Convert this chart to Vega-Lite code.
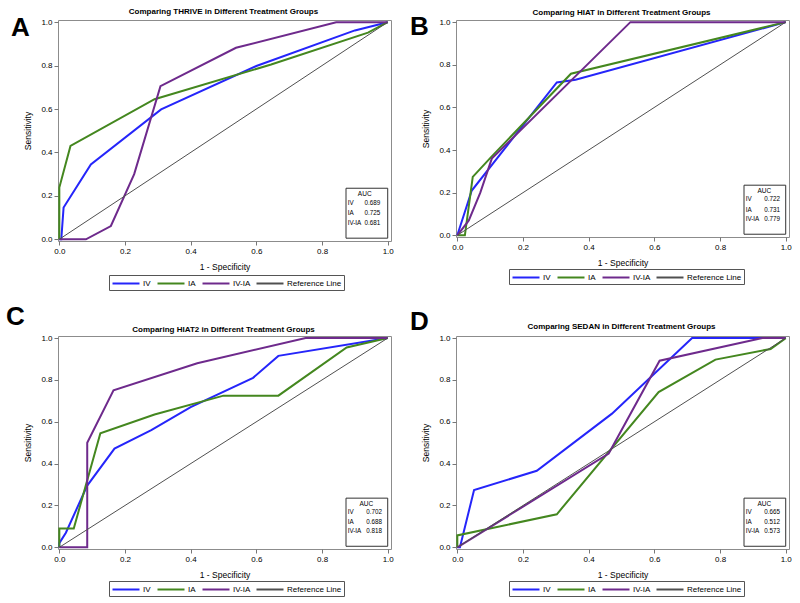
{
  "$schema": "https://vega.github.io/schema/vega-lite/v6.json",
  "padding": {"left": 5, "top": 7, "right": 5, "bottom": 0},
  "background": "white",
  "datasets": {
    "roc": [
      {"panel":"A","series":"IV","i":0,"fpr":0,"tpr":0},
      {"panel":"A","series":"IV","i":1,"fpr":0.006,"tpr":0},
      {"panel":"A","series":"IV","i":2,"fpr":0.013,"tpr":0.146},
      {"panel":"A","series":"IV","i":3,"fpr":0.096,"tpr":0.345},
      {"panel":"A","series":"IV","i":4,"fpr":0.31,"tpr":0.598},
      {"panel":"A","series":"IV","i":5,"fpr":0.6,"tpr":0.798},
      {"panel":"A","series":"IV","i":6,"fpr":0.9,"tpr":0.962},
      {"panel":"A","series":"IV","i":7,"fpr":1,"tpr":1},
      {"panel":"A","series":"IA","i":0,"fpr":0,"tpr":0},
      {"panel":"A","series":"IA","i":1,"fpr":0,"tpr":0.238},
      {"panel":"A","series":"IA","i":2,"fpr":0.034,"tpr":0.43},
      {"panel":"A","series":"IA","i":3,"fpr":0.29,"tpr":0.645},
      {"panel":"A","series":"IA","i":4,"fpr":0.645,"tpr":0.805},
      {"panel":"A","series":"IA","i":5,"fpr":0.94,"tpr":0.952},
      {"panel":"A","series":"IA","i":6,"fpr":1,"tpr":1},
      {"panel":"A","series":"IV-IA","i":0,"fpr":0,"tpr":0},
      {"panel":"A","series":"IV-IA","i":1,"fpr":0.081,"tpr":0},
      {"panel":"A","series":"IV-IA","i":2,"fpr":0.157,"tpr":0.061},
      {"panel":"A","series":"IV-IA","i":3,"fpr":0.228,"tpr":0.3},
      {"panel":"A","series":"IV-IA","i":4,"fpr":0.308,"tpr":0.705},
      {"panel":"A","series":"IV-IA","i":5,"fpr":0.538,"tpr":0.882},
      {"panel":"A","series":"IV-IA","i":6,"fpr":0.843,"tpr":1},
      {"panel":"A","series":"IV-IA","i":7,"fpr":1,"tpr":1},
      {"panel":"A","series":"Reference Line","i":0,"fpr":0,"tpr":0},
      {"panel":"A","series":"Reference Line","i":1,"fpr":1,"tpr":1},

      {"panel":"B","series":"IV","i":0,"fpr":0,"tpr":0},
      {"panel":"B","series":"IV","i":1,"fpr":0.044,"tpr":0.21},
      {"panel":"B","series":"IV","i":2,"fpr":0.303,"tpr":0.717},
      {"panel":"B","series":"IV","i":3,"fpr":0.36,"tpr":0.73},
      {"panel":"B","series":"IV","i":4,"fpr":1,"tpr":1},
      {"panel":"B","series":"IA","i":0,"fpr":0,"tpr":0},
      {"panel":"B","series":"IA","i":1,"fpr":0.023,"tpr":0},
      {"panel":"B","series":"IA","i":2,"fpr":0.047,"tpr":0.274},
      {"panel":"B","series":"IA","i":3,"fpr":0.1,"tpr":0.362},
      {"panel":"B","series":"IA","i":4,"fpr":0.346,"tpr":0.758},
      {"panel":"B","series":"IA","i":5,"fpr":1,"tpr":1},
      {"panel":"B","series":"IV-IA","i":0,"fpr":0,"tpr":0},
      {"panel":"B","series":"IV-IA","i":1,"fpr":0.035,"tpr":0.07},
      {"panel":"B","series":"IV-IA","i":2,"fpr":0.07,"tpr":0.2},
      {"panel":"B","series":"IV-IA","i":3,"fpr":0.105,"tpr":0.36},
      {"panel":"B","series":"IV-IA","i":4,"fpr":0.527,"tpr":1},
      {"panel":"B","series":"IV-IA","i":5,"fpr":1,"tpr":1},
      {"panel":"B","series":"Reference Line","i":0,"fpr":0,"tpr":0},
      {"panel":"B","series":"Reference Line","i":1,"fpr":1,"tpr":1},

      {"panel":"C","series":"IV","i":0,"fpr":0,"tpr":0},
      {"panel":"C","series":"IV","i":1,"fpr":0,"tpr":0.02},
      {"panel":"C","series":"IV","i":2,"fpr":0.02,"tpr":0.07},
      {"panel":"C","series":"IV","i":3,"fpr":0.085,"tpr":0.295},
      {"panel":"C","series":"IV","i":4,"fpr":0.168,"tpr":0.472},
      {"panel":"C","series":"IV","i":5,"fpr":0.28,"tpr":0.56},
      {"panel":"C","series":"IV","i":6,"fpr":0.4,"tpr":0.67},
      {"panel":"C","series":"IV","i":7,"fpr":0.59,"tpr":0.81},
      {"panel":"C","series":"IV","i":8,"fpr":0.667,"tpr":0.915},
      {"panel":"C","series":"IV","i":9,"fpr":1,"tpr":1},
      {"panel":"C","series":"IA","i":0,"fpr":0,"tpr":0},
      {"panel":"C","series":"IA","i":1,"fpr":0,"tpr":0.09},
      {"panel":"C","series":"IA","i":2,"fpr":0.044,"tpr":0.09},
      {"panel":"C","series":"IA","i":3,"fpr":0.125,"tpr":0.545},
      {"panel":"C","series":"IA","i":4,"fpr":0.29,"tpr":0.635},
      {"panel":"C","series":"IA","i":5,"fpr":0.5,"tpr":0.725},
      {"panel":"C","series":"IA","i":6,"fpr":0.667,"tpr":0.725},
      {"panel":"C","series":"IA","i":7,"fpr":0.875,"tpr":0.955},
      {"panel":"C","series":"IA","i":8,"fpr":1,"tpr":1},
      {"panel":"C","series":"IV-IA","i":0,"fpr":0,"tpr":0},
      {"panel":"C","series":"IV-IA","i":1,"fpr":0.085,"tpr":0},
      {"panel":"C","series":"IV-IA","i":2,"fpr":0.085,"tpr":0.5},
      {"panel":"C","series":"IV-IA","i":3,"fpr":0.165,"tpr":0.75},
      {"panel":"C","series":"IV-IA","i":4,"fpr":0.42,"tpr":0.88},
      {"panel":"C","series":"IV-IA","i":5,"fpr":0.75,"tpr":1},
      {"panel":"C","series":"IV-IA","i":6,"fpr":1,"tpr":1},
      {"panel":"C","series":"Reference Line","i":0,"fpr":0,"tpr":0},
      {"panel":"C","series":"Reference Line","i":1,"fpr":1,"tpr":1},

      {"panel":"D","series":"IV","i":0,"fpr":0,"tpr":0},
      {"panel":"D","series":"IV","i":1,"fpr":0.008,"tpr":0},
      {"panel":"D","series":"IV","i":2,"fpr":0.051,"tpr":0.274},
      {"panel":"D","series":"IV","i":3,"fpr":0.242,"tpr":0.366},
      {"panel":"D","series":"IV","i":4,"fpr":0.471,"tpr":0.639},
      {"panel":"D","series":"IV","i":5,"fpr":0.715,"tpr":1},
      {"panel":"D","series":"IV","i":6,"fpr":1,"tpr":1},
      {"panel":"D","series":"IA","i":0,"fpr":0,"tpr":0},
      {"panel":"D","series":"IA","i":1,"fpr":0,"tpr":0.057},
      {"panel":"D","series":"IA","i":2,"fpr":0.303,"tpr":0.158},
      {"panel":"D","series":"IA","i":3,"fpr":0.613,"tpr":0.742},
      {"panel":"D","series":"IA","i":4,"fpr":0.786,"tpr":0.897},
      {"panel":"D","series":"IA","i":5,"fpr":0.954,"tpr":0.948},
      {"panel":"D","series":"IA","i":6,"fpr":1,"tpr":1},
      {"panel":"D","series":"IV-IA","i":0,"fpr":0,"tpr":0},
      {"panel":"D","series":"IV-IA","i":1,"fpr":0.461,"tpr":0.448},
      {"panel":"D","series":"IV-IA","i":2,"fpr":0.616,"tpr":0.892},
      {"panel":"D","series":"IV-IA","i":3,"fpr":0.929,"tpr":1},
      {"panel":"D","series":"IV-IA","i":4,"fpr":1,"tpr":1},
      {"panel":"D","series":"Reference Line","i":0,"fpr":0,"tpr":0},
      {"panel":"D","series":"Reference Line","i":1,"fpr":1,"tpr":1}
    ],
    "auc": [
      {"panel":"A","series":"IV","auc":0.689},
      {"panel":"A","series":"IA","auc":0.725},
      {"panel":"A","series":"IV-IA","auc":0.681},
      {"panel":"B","series":"IV","auc":0.722},
      {"panel":"B","series":"IA","auc":0.731},
      {"panel":"B","series":"IV-IA","auc":0.779},
      {"panel":"C","series":"IV","auc":0.702},
      {"panel":"C","series":"IA","auc":0.688},
      {"panel":"C","series":"IV-IA","auc":0.818},
      {"panel":"D","series":"IV","auc":0.665},
      {"panel":"D","series":"IA","auc":0.512},
      {"panel":"D","series":"IV-IA","auc":0.573}
    ],
    "panels": [
      {"panel":"A","title":"Comparing THRIVE in Different Treatment Groups"},
      {"panel":"B","title":"Comparing HIAT in Different Treatment Groups"},
      {"panel":"C","title":"Comparing HIAT2 in Different Treatment Groups"},
      {"panel":"D","title":"Comparing SEDAN in Different Treatment Groups"}
    ]
  },
  "columns": 2,
  "spacing": {"row": 12, "column": 15},
  "resolve": {"scale": {"color": "independent", "x": "independent", "y": "independent"}, "legend": {"color": "independent"}, "axis": {"x": "independent", "y": "independent"}},
  "concat": [
    {
      "width": 333, "height": 221,
      "layer": [
        {"data": {"name": "roc"}, "transform": [{"filter": "datum.panel === 'A' && datum.series !== 'Reference Line'"}],
         "mark": {"type": "line", "strokeWidth": 2},
         "encoding": {
           "x": {"field": "fpr", "type": "quantitative", "scale": {"domain": [-0.004, 1.01], "nice": false, "zero": false}, "axis": {"values": [0,0.2,0.4,0.6,0.8,1], "format": ".1f", "title": "1 - Specificity", "titlePadding": 7}},
           "y": {"field": "tpr", "type": "quantitative", "scale": {"domain": [-0.008, 1.01], "nice": false, "zero": false}, "axis": {"values": [0,0.2,0.4,0.6,0.8,1], "format": ".1f", "title": "Sensitivity", "titlePadding": 8}},
           "color": {"field": "series", "type": "nominal", "scale": {"domain": ["IV","IA","IV-IA","Reference Line"], "range": ["#2525FA","#44871F","#6E2A8C","#505050"]}, "legend": {"title": null, "orient": "none", "direction": "horizontal", "legendX": 51, "legendY": 255}},
           "order": {"field": "i", "type": "quantitative"}
         }},
        {"data": {"name": "roc"}, "transform": [{"filter": "datum.panel === 'A' && datum.series === 'Reference Line'"}],
         "mark": {"type": "line", "strokeWidth": 1},
         "encoding": {"x": {"field": "fpr", "type": "quantitative"}, "y": {"field": "tpr", "type": "quantitative"}, "color": {"field": "series", "type": "nominal"}, "order": {"field": "i", "type": "quantitative"}}},
        {"data": {"name": "panels"}, "transform": [{"filter": "datum.panel === 'A'"}],
         "mark": {"type": "rect", "fill": "white", "stroke": "#333333", "strokeWidth": 1},
         "encoding": {"x": {"datum": 0.873}, "x2": {"datum": 1.0}, "y": {"datum": 0.005}, "y2": {"datum": 0.235}}},
        {"data": {"name": "panels"}, "transform": [{"filter": "datum.panel === 'A'"}],
         "mark": {"type": "text", "text": "AUC", "fontSize": 6.5, "align": "center", "baseline": "middle"},
         "encoding": {"x": {"datum": 0.93}, "y": {"datum": 0.207}}},
        {"data": {"name": "auc"}, "transform": [{"filter": "datum.panel === 'A' && datum.series === 'IV'"}],
         "mark": {"type": "text", "fontSize": 6.3, "align": "left", "baseline": "middle"},
         "encoding": {"x": {"datum": 0.878}, "y": {"datum": 0.166}, "text": {"field": "series"}}},
        {"data": {"name": "auc"}, "transform": [{"filter": "datum.panel === 'A' && datum.series === 'IV'"}],
         "mark": {"type": "text", "fontSize": 6.3, "align": "right", "baseline": "middle"},
         "encoding": {"x": {"datum": 0.977}, "y": {"datum": 0.166}, "text": {"field": "auc", "format": ".3f"}}},
        {"data": {"name": "auc"}, "transform": [{"filter": "datum.panel === 'A' && datum.series === 'IA'"}],
         "mark": {"type": "text", "fontSize": 6.3, "align": "left", "baseline": "middle"},
         "encoding": {"x": {"datum": 0.878}, "y": {"datum": 0.12}, "text": {"field": "series"}}},
        {"data": {"name": "auc"}, "transform": [{"filter": "datum.panel === 'A' && datum.series === 'IA'"}],
         "mark": {"type": "text", "fontSize": 6.3, "align": "right", "baseline": "middle"},
         "encoding": {"x": {"datum": 0.977}, "y": {"datum": 0.12}, "text": {"field": "auc", "format": ".3f"}}},
        {"data": {"name": "auc"}, "transform": [{"filter": "datum.panel === 'A' && datum.series === 'IV-IA'"}],
         "mark": {"type": "text", "fontSize": 6.3, "align": "left", "baseline": "middle"},
         "encoding": {"x": {"datum": 0.878}, "y": {"datum": 0.075}, "text": {"field": "series"}}},
        {"data": {"name": "auc"}, "transform": [{"filter": "datum.panel === 'A' && datum.series === 'IV-IA'"}],
         "mark": {"type": "text", "fontSize": 6.3, "align": "right", "baseline": "middle"},
         "encoding": {"x": {"datum": 0.977}, "y": {"datum": 0.075}, "text": {"field": "auc", "format": ".3f"}}},
        {"data": {"name": "panels"}, "transform": [{"filter": "datum.panel === 'A'"}],
         "mark": {"type": "text", "fontSize": 8, "fontWeight": "bold", "align": "center", "baseline": "alphabetic"},
         "encoding": {"x": {"datum": 0.5}, "y": {"datum": 1.038}, "text": {"field": "title"}}},
        {"data": {"name": "panels"}, "transform": [{"filter": "datum.panel === 'A'"}],
         "mark": {"type": "text", "fontSize": 26, "fontWeight": "bold", "align": "left", "baseline": "middle"},
         "encoding": {"x": {"datum": -0.147}, "y": {"datum": 0.973}, "text": {"field": "panel"}}}
      ]
    },
    {
      "width": 333, "height": 217,
      "layer": [
        {"data": {"name": "roc"}, "transform": [{"filter": "datum.panel === 'B' && datum.series !== 'Reference Line'"}],
         "mark": {"type": "line", "strokeWidth": 2},
         "encoding": {
           "x": {"field": "fpr", "type": "quantitative", "scale": {"domain": [-0.004, 1.01], "nice": false, "zero": false}, "axis": {"values": [0,0.2,0.4,0.6,0.8,1], "format": ".1f", "title": "1 - Specificity", "titlePadding": 7}},
           "y": {"field": "tpr", "type": "quantitative", "scale": {"domain": [-0.008, 1.01], "nice": false, "zero": false}, "axis": {"values": [0,0.2,0.4,0.6,0.8,1], "format": ".1f", "title": "Sensitivity", "titlePadding": 8}},
           "color": {"field": "series", "type": "nominal", "scale": {"domain": ["IV","IA","IV-IA","Reference Line"], "range": ["#2525FA","#44871F","#6E2A8C","#505050"]}, "legend": {"title": null, "orient": "none", "direction": "horizontal", "legendX": 53, "legendY": 249}},
           "order": {"field": "i", "type": "quantitative"}
         }},
        {"data": {"name": "roc"}, "transform": [{"filter": "datum.panel === 'B' && datum.series === 'Reference Line'"}],
         "mark": {"type": "line", "strokeWidth": 1},
         "encoding": {"x": {"field": "fpr", "type": "quantitative"}, "y": {"field": "tpr", "type": "quantitative"}, "color": {"field": "series", "type": "nominal"}, "order": {"field": "i", "type": "quantitative"}}},
        {"data": {"name": "panels"}, "transform": [{"filter": "datum.panel === 'B'"}],
         "mark": {"type": "rect", "fill": "white", "stroke": "#333333", "strokeWidth": 1},
         "encoding": {"x": {"datum": 0.873}, "x2": {"datum": 1.0}, "y": {"datum": 0.005}, "y2": {"datum": 0.235}}},
        {"data": {"name": "panels"}, "transform": [{"filter": "datum.panel === 'B'"}],
         "mark": {"type": "text", "text": "AUC", "fontSize": 6.5, "align": "center", "baseline": "middle"},
         "encoding": {"x": {"datum": 0.935}, "y": {"datum": 0.208}}},
        {"data": {"name": "auc"}, "transform": [{"filter": "datum.panel === 'B' && datum.series === 'IV'"}],
         "mark": {"type": "text", "fontSize": 6.3, "align": "left", "baseline": "middle"},
         "encoding": {"x": {"datum": 0.878}, "y": {"datum": 0.168}, "text": {"field": "series"}}},
        {"data": {"name": "auc"}, "transform": [{"filter": "datum.panel === 'B' && datum.series === 'IV'"}],
         "mark": {"type": "text", "fontSize": 6.3, "align": "right", "baseline": "middle"},
         "encoding": {"x": {"datum": 0.983}, "y": {"datum": 0.168}, "text": {"field": "auc", "format": ".3f"}}},
        {"data": {"name": "auc"}, "transform": [{"filter": "datum.panel === 'B' && datum.series === 'IA'"}],
         "mark": {"type": "text", "fontSize": 6.3, "align": "left", "baseline": "middle"},
         "encoding": {"x": {"datum": 0.878}, "y": {"datum": 0.121}, "text": {"field": "series"}}},
        {"data": {"name": "auc"}, "transform": [{"filter": "datum.panel === 'B' && datum.series === 'IA'"}],
         "mark": {"type": "text", "fontSize": 6.3, "align": "right", "baseline": "middle"},
         "encoding": {"x": {"datum": 0.983}, "y": {"datum": 0.121}, "text": {"field": "auc", "format": ".3f"}}},
        {"data": {"name": "auc"}, "transform": [{"filter": "datum.panel === 'B' && datum.series === 'IV-IA'"}],
         "mark": {"type": "text", "fontSize": 6.3, "align": "left", "baseline": "middle"},
         "encoding": {"x": {"datum": 0.878}, "y": {"datum": 0.076}, "text": {"field": "series"}}},
        {"data": {"name": "auc"}, "transform": [{"filter": "datum.panel === 'B' && datum.series === 'IV-IA'"}],
         "mark": {"type": "text", "fontSize": 6.3, "align": "right", "baseline": "middle"},
         "encoding": {"x": {"datum": 0.983}, "y": {"datum": 0.076}, "text": {"field": "auc", "format": ".3f"}}},
        {"data": {"name": "panels"}, "transform": [{"filter": "datum.panel === 'B'"}],
         "mark": {"type": "text", "fontSize": 8, "fontWeight": "bold", "align": "center", "baseline": "alphabetic"},
         "encoding": {"x": {"datum": 0.5}, "y": {"datum": 1.033}, "text": {"field": "title"}}},
        {"data": {"name": "panels"}, "transform": [{"filter": "datum.panel === 'B'"}],
         "mark": {"type": "text", "fontSize": 26, "fontWeight": "bold", "align": "left", "baseline": "middle"},
         "encoding": {"x": {"datum": -0.144}, "y": {"datum": 0.975}, "text": {"field": "panel"}}}
      ]
    },
    {
      "width": 333, "height": 213,
      "layer": [
        {"data": {"name": "roc"}, "transform": [{"filter": "datum.panel === 'C' && datum.series !== 'Reference Line'"}],
         "mark": {"type": "line", "strokeWidth": 2},
         "encoding": {
           "x": {"field": "fpr", "type": "quantitative", "scale": {"domain": [-0.004, 1.01], "nice": false, "zero": false}, "axis": {"values": [0,0.2,0.4,0.6,0.8,1], "format": ".1f", "title": "1 - Specificity", "titlePadding": 7}},
           "y": {"field": "tpr", "type": "quantitative", "scale": {"domain": [-0.008, 1.01], "nice": false, "zero": false}, "axis": {"values": [0,0.2,0.4,0.6,0.8,1], "format": ".1f", "title": "Sensitivity", "titlePadding": 8}},
           "color": {"field": "series", "type": "nominal", "scale": {"domain": ["IV","IA","IV-IA","Reference Line"], "range": ["#2525FA","#44871F","#6E2A8C","#505050"]}, "legend": {"title": null, "orient": "none", "direction": "horizontal", "legendX": 51, "legendY": 245}},
           "order": {"field": "i", "type": "quantitative"}
         }},
        {"data": {"name": "roc"}, "transform": [{"filter": "datum.panel === 'C' && datum.series === 'Reference Line'"}],
         "mark": {"type": "line", "strokeWidth": 1},
         "encoding": {"x": {"field": "fpr", "type": "quantitative"}, "y": {"field": "tpr", "type": "quantitative"}, "color": {"field": "series", "type": "nominal"}, "order": {"field": "i", "type": "quantitative"}}},
        {"data": {"name": "panels"}, "transform": [{"filter": "datum.panel === 'C'"}],
         "mark": {"type": "rect", "fill": "white", "stroke": "#333333", "strokeWidth": 1},
         "encoding": {"x": {"datum": 0.873}, "x2": {"datum": 1.0}, "y": {"datum": 0.005}, "y2": {"datum": 0.235}}},
        {"data": {"name": "panels"}, "transform": [{"filter": "datum.panel === 'C'"}],
         "mark": {"type": "text", "text": "AUC", "fontSize": 6.5, "align": "center", "baseline": "middle"},
         "encoding": {"x": {"datum": 0.935}, "y": {"datum": 0.208}}},
        {"data": {"name": "auc"}, "transform": [{"filter": "datum.panel === 'C' && datum.series === 'IV'"}],
         "mark": {"type": "text", "fontSize": 6.3, "align": "left", "baseline": "middle"},
         "encoding": {"x": {"datum": 0.878}, "y": {"datum": 0.168}, "text": {"field": "series"}}},
        {"data": {"name": "auc"}, "transform": [{"filter": "datum.panel === 'C' && datum.series === 'IV'"}],
         "mark": {"type": "text", "fontSize": 6.3, "align": "right", "baseline": "middle"},
         "encoding": {"x": {"datum": 0.983}, "y": {"datum": 0.168}, "text": {"field": "auc", "format": ".3f"}}},
        {"data": {"name": "auc"}, "transform": [{"filter": "datum.panel === 'C' && datum.series === 'IA'"}],
         "mark": {"type": "text", "fontSize": 6.3, "align": "left", "baseline": "middle"},
         "encoding": {"x": {"datum": 0.878}, "y": {"datum": 0.121}, "text": {"field": "series"}}},
        {"data": {"name": "auc"}, "transform": [{"filter": "datum.panel === 'C' && datum.series === 'IA'"}],
         "mark": {"type": "text", "fontSize": 6.3, "align": "right", "baseline": "middle"},
         "encoding": {"x": {"datum": 0.983}, "y": {"datum": 0.121}, "text": {"field": "auc", "format": ".3f"}}},
        {"data": {"name": "auc"}, "transform": [{"filter": "datum.panel === 'C' && datum.series === 'IV-IA'"}],
         "mark": {"type": "text", "fontSize": 6.3, "align": "left", "baseline": "middle"},
         "encoding": {"x": {"datum": 0.878}, "y": {"datum": 0.076}, "text": {"field": "series"}}},
        {"data": {"name": "auc"}, "transform": [{"filter": "datum.panel === 'C' && datum.series === 'IV-IA'"}],
         "mark": {"type": "text", "fontSize": 6.3, "align": "right", "baseline": "middle"},
         "encoding": {"x": {"datum": 0.983}, "y": {"datum": 0.076}, "text": {"field": "auc", "format": ".3f"}}},
        {"data": {"name": "panels"}, "transform": [{"filter": "datum.panel === 'C'"}],
         "mark": {"type": "text", "fontSize": 8, "fontWeight": "bold", "align": "center", "baseline": "alphabetic"},
         "encoding": {"x": {"datum": 0.5}, "y": {"datum": 1.03}, "text": {"field": "title"}}},
        {"data": {"name": "panels"}, "transform": [{"filter": "datum.panel === 'C'"}],
         "mark": {"type": "text", "fontSize": 26, "fontWeight": "bold", "align": "left", "baseline": "middle"},
         "encoding": {"x": {"datum": -0.162}, "y": {"datum": 1.102}, "text": {"field": "panel"}}}
      ]
    },
    {
      "width": 333, "height": 213,
      "layer": [
        {"data": {"name": "roc"}, "transform": [{"filter": "datum.panel === 'D' && datum.series !== 'Reference Line'"}],
         "mark": {"type": "line", "strokeWidth": 2},
         "encoding": {
           "x": {"field": "fpr", "type": "quantitative", "scale": {"domain": [-0.004, 1.01], "nice": false, "zero": false}, "axis": {"values": [0,0.2,0.4,0.6,0.8,1], "format": ".1f", "title": "1 - Specificity", "titlePadding": 7}},
           "y": {"field": "tpr", "type": "quantitative", "scale": {"domain": [-0.008, 1.01], "nice": false, "zero": false}, "axis": {"values": [0,0.2,0.4,0.6,0.8,1], "format": ".1f", "title": "Sensitivity", "titlePadding": 8}},
           "color": {"field": "series", "type": "nominal", "scale": {"domain": ["IV","IA","IV-IA","Reference Line"], "range": ["#2525FA","#44871F","#6E2A8C","#505050"]}, "legend": {"title": null, "orient": "none", "direction": "horizontal", "legendX": 53, "legendY": 245}},
           "order": {"field": "i", "type": "quantitative"}
         }},
        {"data": {"name": "roc"}, "transform": [{"filter": "datum.panel === 'D' && datum.series === 'Reference Line'"}],
         "mark": {"type": "line", "strokeWidth": 1},
         "encoding": {"x": {"field": "fpr", "type": "quantitative"}, "y": {"field": "tpr", "type": "quantitative"}, "color": {"field": "series", "type": "nominal"}, "order": {"field": "i", "type": "quantitative"}}},
        {"data": {"name": "panels"}, "transform": [{"filter": "datum.panel === 'D'"}],
         "mark": {"type": "rect", "fill": "white", "stroke": "#333333", "strokeWidth": 1},
         "encoding": {"x": {"datum": 0.873}, "x2": {"datum": 1.0}, "y": {"datum": 0.005}, "y2": {"datum": 0.235}}},
        {"data": {"name": "panels"}, "transform": [{"filter": "datum.panel === 'D'"}],
         "mark": {"type": "text", "text": "AUC", "fontSize": 6.5, "align": "center", "baseline": "middle"},
         "encoding": {"x": {"datum": 0.935}, "y": {"datum": 0.208}}},
        {"data": {"name": "auc"}, "transform": [{"filter": "datum.panel === 'D' && datum.series === 'IV'"}],
         "mark": {"type": "text", "fontSize": 6.3, "align": "left", "baseline": "middle"},
         "encoding": {"x": {"datum": 0.878}, "y": {"datum": 0.168}, "text": {"field": "series"}}},
        {"data": {"name": "auc"}, "transform": [{"filter": "datum.panel === 'D' && datum.series === 'IV'"}],
         "mark": {"type": "text", "fontSize": 6.3, "align": "right", "baseline": "middle"},
         "encoding": {"x": {"datum": 0.983}, "y": {"datum": 0.168}, "text": {"field": "auc", "format": ".3f"}}},
        {"data": {"name": "auc"}, "transform": [{"filter": "datum.panel === 'D' && datum.series === 'IA'"}],
         "mark": {"type": "text", "fontSize": 6.3, "align": "left", "baseline": "middle"},
         "encoding": {"x": {"datum": 0.878}, "y": {"datum": 0.121}, "text": {"field": "series"}}},
        {"data": {"name": "auc"}, "transform": [{"filter": "datum.panel === 'D' && datum.series === 'IA'"}],
         "mark": {"type": "text", "fontSize": 6.3, "align": "right", "baseline": "middle"},
         "encoding": {"x": {"datum": 0.983}, "y": {"datum": 0.121}, "text": {"field": "auc", "format": ".3f"}}},
        {"data": {"name": "auc"}, "transform": [{"filter": "datum.panel === 'D' && datum.series === 'IV-IA'"}],
         "mark": {"type": "text", "fontSize": 6.3, "align": "left", "baseline": "middle"},
         "encoding": {"x": {"datum": 0.878}, "y": {"datum": 0.076}, "text": {"field": "series"}}},
        {"data": {"name": "auc"}, "transform": [{"filter": "datum.panel === 'D' && datum.series === 'IV-IA'"}],
         "mark": {"type": "text", "fontSize": 6.3, "align": "right", "baseline": "middle"},
         "encoding": {"x": {"datum": 0.983}, "y": {"datum": 0.076}, "text": {"field": "auc", "format": ".3f"}}},
        {"data": {"name": "panels"}, "transform": [{"filter": "datum.panel === 'D'"}],
         "mark": {"type": "text", "fontSize": 8, "fontWeight": "bold", "align": "center", "baseline": "alphabetic"},
         "encoding": {"x": {"datum": 0.5}, "y": {"datum": 1.043}, "text": {"field": "title"}}},
        {"data": {"name": "panels"}, "transform": [{"filter": "datum.panel === 'D'"}],
         "mark": {"type": "text", "fontSize": 26, "fontWeight": "bold", "align": "left", "baseline": "middle"},
         "encoding": {"x": {"datum": -0.144}, "y": {"datum": 1.077}, "text": {"field": "panel"}}}
      ]
    }
  ],
  "config": {
    "font": "Liberation Sans",
    "view": {"stroke": "#8c8c8c", "strokeWidth": 1},
    "axis": {"domain": false, "grid": false, "tickColor": "#777777", "tickSize": 4, "labelFontSize": 8, "labelColor": "#000000", "labelPadding": 2, "titleFontSize": 8.5, "titleFontWeight": "normal", "titleColor": "#000000"},
    "legend": {"symbolType": "M-1,0H4.4", "symbolSize": 100, "symbolOffset": 0, "symbolStrokeWidth": 2, "labelFontSize": 8, "labelColor": "#000000", "labelOffset": 19.5, "strokeColor": "#555555", "padding": 2.5, "columnPadding": 2}
  }
}
